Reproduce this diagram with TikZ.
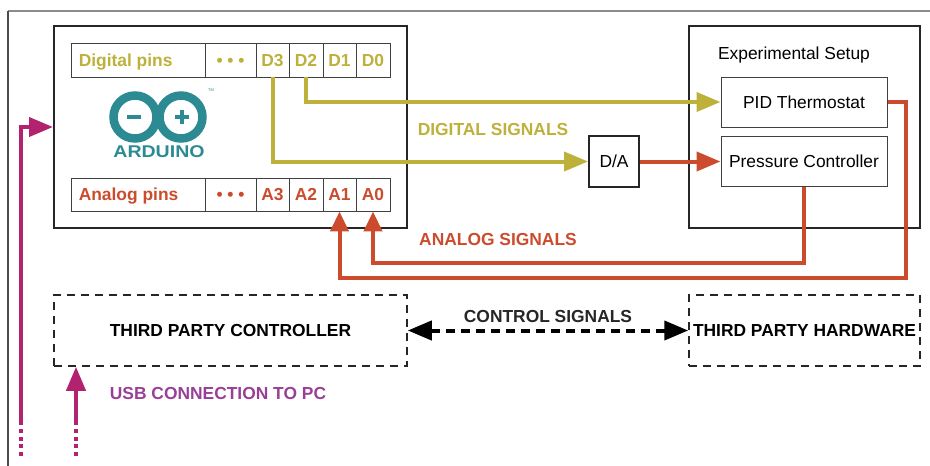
\documentclass[tikz,border=0pt]{standalone}
\usepackage{fontspec}
\setmainfont{Liberation Sans}
\usetikzlibrary{arrows.meta}
\definecolor{dgold}{HTML}{BDB03B}
\definecolor{dred}{HTML}{CC4B2C}
\definecolor{dmag}{HTML}{B3226F}
\definecolor{dpurple}{HTML}{9A3F97}
\definecolor{teal1}{HTML}{2C8A93}
\newcommand\fs{\fontsize{17.4pt}{20pt}\selectfont}
\begin{document}
\begin{tikzpicture}[x=1pt,y=-1pt,
  lbl/.style={inner sep=0pt, font=\fs\bfseries, text height=12.5pt, text depth=0pt},
  bigbox/.style={draw=black!85, line width=2pt, inner sep=0pt},
  cell/.style={draw=black!75, line width=0.9pt, inner sep=0pt, font=\fs\bfseries, text height=12.5pt, text depth=0pt},
  ibox/.style={draw=black!75, line width=1pt, minimum width=166pt, minimum height=50pt, inner sep=0pt, font=\fs, text height=12.5pt, text depth=0pt},
  dbox/.style={draw=black!85, line width=1.5pt, dash pattern=on 8pt off 6pt, inner sep=0pt, font=\fs\bfseries, text height=12.5pt, text depth=0pt},
  sig/.style={line width=4pt},
  tipA/.style={-{Triangle[length=24pt,width=19pt]}},
  tipR/.style={-{Triangle[length=20pt,width=18pt]}},
  dotline/.style={line width=4pt, dash pattern=on 4pt off 3.5pt}
]
\useasboundingbox (0,0) rectangle (930,466);
% outer frame
\draw[black!45, line width=1.2pt] (8,11) -- (930,11);
\draw[black!70, line width=1.5pt] (8,11) -- (8,466);

% Arduino box
\node[bigbox, minimum width=353pt, minimum height=202pt] (ard) at (230.5,127) {};
% digital pins row
\node[cell, minimum width=134pt, minimum height=34pt] (dig) at (138,60) {};
\node[lbl, anchor=west, text=dgold] (diglbl) at ([xshift=8pt]dig.west) {Digital pins};
\node[cell, minimum width=51pt, minimum height=34pt, text=dgold] (ddots) at (230.5,60) {• • •};
\node[cell, minimum width=33pt, minimum height=34pt, text=dgold] (D3) at (272.5,60) {D3};
\node[cell, minimum width=34pt, minimum height=34pt, text=dgold] (D2) at (306,60) {D2};
\node[cell, minimum width=33pt, minimum height=34pt, text=dgold] (D1) at (339.5,60) {D1};
\node[cell, minimum width=34pt, minimum height=34pt, text=dgold] (D0) at (373,60) {D0};
% analog pins row
\node[cell, minimum width=134pt, minimum height=33pt] (ana) at (138,194.5) {};
\node[lbl, anchor=west, text=dred] (analbl) at ([xshift=8pt]ana.west) {Analog pins};
\node[cell, minimum width=51pt, minimum height=33pt, text=dred] (adots) at (230.5,194.5) {• • •};
\node[cell, minimum width=33pt, minimum height=33pt, text=dred] (A3) at (272.5,194.5) {A3};
\node[cell, minimum width=34pt, minimum height=33pt, text=dred] (A2) at (306,194.5) {A2};
\node[cell, minimum width=33pt, minimum height=33pt, text=dred] (A1) at (339.5,194.5) {A1};
\node[cell, minimum width=34pt, minimum height=33pt, text=dred] (A0) at (373,194.5) {A0};

% Arduino logo
\draw[teal1, line width=8.5pt] (135,117) circle[radius=21.5pt];
\draw[teal1, line width=8.5pt] (181,117) circle[radius=21.5pt];
\draw[teal1, line width=4pt] (127,117) -- (141,117);
\draw[teal1, line width=4pt] (175,117) -- (189,117);
\draw[teal1, line width=4pt] (182,110) -- (182,124);
\node[inner sep=0pt, text=teal1, font=\fontsize{17pt}{17pt}\selectfont\bfseries, text height=12pt, text depth=0pt] (logotxt) at (159,151) {\scalebox{1.15}[1]{ARDUINO}};
\node[inner sep=0pt, text=teal1, font=\fontsize{4pt}{4pt}\selectfont] (tm) at (211,90) {TM};

% Experimental setup
\node[bigbox, minimum width=231pt, minimum height=202pt] (exp) at (804.5,127) {};
\node[inner sep=0pt, font=\fs, text height=12.5pt, text depth=0pt] (explbl) at (794,53) {Experimental Setup};
\node[ibox] (PID) at (804,102) {PID Thermostat};
\node[ibox] (PC) at (804,161.5) {Pressure Controller};
\node[bigbox, minimum width=50pt, minimum height=51pt, font=\fs, text height=12.5pt, text depth=0pt] (DA) at (614,161.5) {D/A};

% third party boxes
\node[dbox, minimum width=353pt, minimum height=71pt] (TPC) at (230.5,330.5) {THIRD PARTY CONTROLLER};
\node[dbox, minimum width=231pt, minimum height=71pt] (TPH) at (804.5,330.5) {THIRD PARTY HARDWARE};

% digital signals
\draw[sig, dgold, tipA] (D3.south) |- (DA.west);
\draw[sig, dgold, tipA] (D2.south) |- (PID.west);
% analog signals
\draw[sig, dred, tipA] (DA.east) -- (PC.west);
\draw[sig, dred, tipR] (PC.south) -- ++(0,76) -| (A0.south);
\draw[sig, dred, tipR] (PID.east) -- ++(18,0) -- ++(0,176) -| (A1.south);
% control signals
\draw[line width=4pt, dash pattern=on 9pt off 6pt, {Triangle[length=24pt,width=19pt]}-{Triangle[length=24pt,width=19pt]}] (TPC.east) -- (TPH.west);

% USB
\coordinate (m1) at (21,425);
\coordinate (m1a) at (21,429);
\coordinate (m1b) at (21,457);
\draw[sig, dmag, tipA] (m1) |- (ard.west);
\draw[dotline, dmag] (m1a) -- (m1b);
\coordinate (m2) at (76,425);
\coordinate (m2a) at (76,429);
\coordinate (m2b) at (76,457);
\draw[sig, dmag, tipA] (m2) -- (m2 |- TPC.south);
\draw[dotline, dmag] (m2a) -- (m2b);

% labels
\node[lbl, text=dgold] (dsig) at (493,129) {DIGITAL SIGNALS};
\node[lbl, text=dred] (asig) at (498,239) {ANALOG SIGNALS};
\node[lbl, text=black!85] (csig) at (548,316.5) {CONTROL SIGNALS};
\node[lbl, text=dpurple] (usb) at (218,393) {USB CONNECTION TO PC};
\end{tikzpicture}
\end{document}
